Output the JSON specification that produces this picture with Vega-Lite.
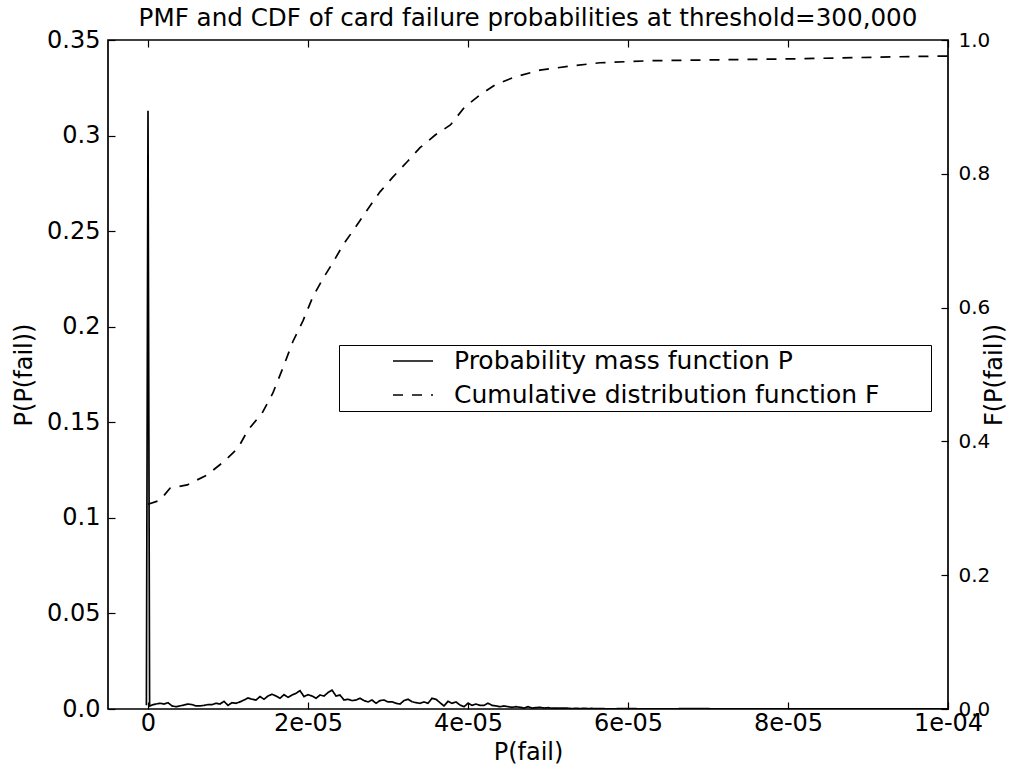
{
  "$schema": "https://vega.github.io/schema/vega-lite/v6.json",
  "autosize": {"type": "none"},
  "width": 840,
  "height": 669,
  "padding": {"left": 108, "top": 40, "right": 76, "bottom": 59},
  "background": "white",
  "config": {
    "font": "DejaVu Sans",
    "view": {"stroke": "black", "strokeWidth": 1.7},
    "axis": {"grid": false, "domain": false, "tickColor": "black", "labelColor": "black", "titleColor": "black", "titleFontWeight": "normal", "titleFontSize": 24, "tickWidth": 1.2}
  },
  "title": {"text": "PMF and CDF of card failure probabilities at threshold=300,000", "fontSize": 24.6, "fontWeight": "normal", "color": "black", "offset": -4, "frame": "group", "anchor": "middle"},
  "datasets": {
    "pmf": [
      {"p": -2e-7, "v": 0.002},
      {"p": 0, "v": 0.313},
      {"p": 2e-7, "v": 0.0015},
      {"p": 5e-7, "v": 0.0021},
      {"p": 1.0e-6, "v": 0.0026},
      {"p": 1.5e-6, "v": 0.0030},
      {"p": 2.0e-6, "v": 0.0026},
      {"p": 2.5e-6, "v": 0.0033},
      {"p": 3.0e-6, "v": 0.0016},
      {"p": 3.5e-6, "v": 0.0012},
      {"p": 4.0e-6, "v": 0.0016},
      {"p": 4.5e-6, "v": 0.0021},
      {"p": 5.0e-6, "v": 0.0026},
      {"p": 5.5e-6, "v": 0.0023},
      {"p": 6.0e-6, "v": 0.0016},
      {"p": 6.5e-6, "v": 0.0016},
      {"p": 7.0e-6, "v": 0.0019},
      {"p": 7.5e-6, "v": 0.0023},
      {"p": 8.0e-6, "v": 0.0023},
      {"p": 8.5e-6, "v": 0.0030},
      {"p": 9.0e-6, "v": 0.0026},
      {"p": 9.5e-6, "v": 0.0040},
      {"p": 1.0e-5, "v": 0.0019},
      {"p": 1.05e-5, "v": 0.0033},
      {"p": 1.1e-5, "v": 0.0030},
      {"p": 1.15e-5, "v": 0.0037},
      {"p": 1.2e-5, "v": 0.0047},
      {"p": 1.25e-5, "v": 0.0058},
      {"p": 1.3e-5, "v": 0.0051},
      {"p": 1.35e-5, "v": 0.0047},
      {"p": 1.4e-5, "v": 0.0065},
      {"p": 1.45e-5, "v": 0.0051},
      {"p": 1.5e-5, "v": 0.0068},
      {"p": 1.55e-5, "v": 0.0077},
      {"p": 1.6e-5, "v": 0.0068},
      {"p": 1.65e-5, "v": 0.0056},
      {"p": 1.7e-5, "v": 0.0075},
      {"p": 1.75e-5, "v": 0.0061},
      {"p": 1.8e-5, "v": 0.0073},
      {"p": 1.85e-5, "v": 0.0082},
      {"p": 1.9e-5, "v": 0.0096},
      {"p": 1.95e-5, "v": 0.0065},
      {"p": 2.0e-5, "v": 0.0075},
      {"p": 2.05e-5, "v": 0.0068},
      {"p": 2.1e-5, "v": 0.0056},
      {"p": 2.15e-5, "v": 0.0073},
      {"p": 2.2e-5, "v": 0.0068},
      {"p": 2.25e-5, "v": 0.0086},
      {"p": 2.3e-5, "v": 0.0099},
      {"p": 2.35e-5, "v": 0.0068},
      {"p": 2.4e-5, "v": 0.0073},
      {"p": 2.45e-5, "v": 0.0047},
      {"p": 2.5e-5, "v": 0.0051},
      {"p": 2.55e-5, "v": 0.0044},
      {"p": 2.6e-5, "v": 0.0047},
      {"p": 2.65e-5, "v": 0.0056},
      {"p": 2.7e-5, "v": 0.0044},
      {"p": 2.75e-5, "v": 0.0037},
      {"p": 2.8e-5, "v": 0.0047},
      {"p": 2.85e-5, "v": 0.0030},
      {"p": 2.9e-5, "v": 0.0044},
      {"p": 2.95e-5, "v": 0.0047},
      {"p": 3.0e-5, "v": 0.0037},
      {"p": 3.05e-5, "v": 0.0038},
      {"p": 3.1e-5, "v": 0.0030},
      {"p": 3.15e-5, "v": 0.0026},
      {"p": 3.2e-5, "v": 0.0044},
      {"p": 3.25e-5, "v": 0.0051},
      {"p": 3.3e-5, "v": 0.0038},
      {"p": 3.35e-5, "v": 0.0033},
      {"p": 3.4e-5, "v": 0.0030},
      {"p": 3.45e-5, "v": 0.0037},
      {"p": 3.5e-5, "v": 0.0030},
      {"p": 3.55e-5, "v": 0.0056},
      {"p": 3.6e-5, "v": 0.0051},
      {"p": 3.65e-5, "v": 0.0033},
      {"p": 3.7e-5, "v": 0.0016},
      {"p": 3.75e-5, "v": 0.0040},
      {"p": 3.8e-5, "v": 0.0030},
      {"p": 3.85e-5, "v": 0.0037},
      {"p": 3.9e-5, "v": 0.0021},
      {"p": 3.95e-5, "v": 0.0012},
      {"p": 4.0e-5, "v": 0.0030},
      {"p": 4.05e-5, "v": 0.0019},
      {"p": 4.1e-5, "v": 0.0026},
      {"p": 4.15e-5, "v": 0.0019},
      {"p": 4.2e-5, "v": 0.0019},
      {"p": 4.25e-5, "v": 0.0030},
      {"p": 4.3e-5, "v": 0.0019},
      {"p": 4.35e-5, "v": 0.0016},
      {"p": 4.4e-5, "v": 0.0012},
      {"p": 4.45e-5, "v": 0.0016},
      {"p": 4.5e-5, "v": 0.0012},
      {"p": 4.55e-5, "v": 0.0009},
      {"p": 4.6e-5, "v": 0.0012},
      {"p": 4.65e-5, "v": 0.0009},
      {"p": 4.7e-5, "v": 0.0005},
      {"p": 4.75e-5, "v": 0.0012},
      {"p": 4.8e-5, "v": 0.0005},
      {"p": 4.85e-5, "v": 0.0007},
      {"p": 4.9e-5, "v": 0.0009},
      {"p": 4.95e-5, "v": 0.0005},
      {"p": 5.0e-5, "v": 0.0007},
      {"p": 5.05e-5, "v": 0.0004},
      {"p": 5.1e-5, "v": 0.0005},
      {"p": 5.15e-5, "v": 0.0004},
      {"p": 5.2e-5, "v": 0.0005},
      {"p": 5.25e-5, "v": 0.0004},
      {"p": 5.3e-5, "v": 0.0002},
      {"p": 5.35e-5, "v": 0.0004},
      {"p": 5.4e-5, "v": 0.0002},
      {"p": 5.45e-5, "v": 0.0004},
      {"p": 5.5e-5, "v": 0.0002},
      {"p": 5.55e-5, "v": 0.0003},
      {"p": 5.6e-5, "v": 0.0002},
      {"p": 5.65e-5, "v": 0.0002},
      {"p": 5.75e-5, "v": 0.0001},
      {"p": 6.0e-5, "v": 0.0002},
      {"p": 6.2e-5, "v": 0.0001},
      {"p": 6.5e-5, "v": 0.0001},
      {"p": 6.8e-5, "v": 0.0002},
      {"p": 7.2e-5, "v": 0.0001},
      {"p": 7.6e-5, "v": 0.0001},
      {"p": 8.0e-5, "v": 0.0001},
      {"p": 8.5e-5, "v": 0.0001},
      {"p": 9.0e-5, "v": 0.0001},
      {"p": 9.5e-5, "v": 0.0001},
      {"p": 1.0e-4, "v": 0.0001}
    ],
    "cdf": [
      {"p": 0, "F": 0.306},
      {"p": 1.5e-6, "F": 0.312},
      {"p": 2.75e-6, "F": 0.330},
      {"p": 4.9e-6, "F": 0.335},
      {"p": 7.4e-6, "F": 0.350},
      {"p": 9.4e-6, "F": 0.369},
      {"p": 1.125e-5, "F": 0.390},
      {"p": 1.25e-5, "F": 0.417},
      {"p": 1.425e-5, "F": 0.442},
      {"p": 1.56e-5, "F": 0.472},
      {"p": 1.69e-5, "F": 0.511},
      {"p": 1.81e-5, "F": 0.549},
      {"p": 1.94e-5, "F": 0.581},
      {"p": 2.06e-5, "F": 0.616},
      {"p": 2.19e-5, "F": 0.644},
      {"p": 2.31e-5, "F": 0.667},
      {"p": 2.44e-5, "F": 0.694},
      {"p": 2.61e-5, "F": 0.723},
      {"p": 2.74e-5, "F": 0.746},
      {"p": 2.9e-5, "F": 0.773},
      {"p": 3.06e-5, "F": 0.795},
      {"p": 3.24e-5, "F": 0.818},
      {"p": 3.4e-5, "F": 0.839},
      {"p": 3.59e-5, "F": 0.858},
      {"p": 3.78e-5, "F": 0.873},
      {"p": 3.96e-5, "F": 0.900},
      {"p": 4.15e-5, "F": 0.918},
      {"p": 4.34e-5, "F": 0.933},
      {"p": 4.59e-5, "F": 0.945},
      {"p": 4.9e-5, "F": 0.955},
      {"p": 5.28e-5, "F": 0.961},
      {"p": 5.65e-5, "F": 0.966},
      {"p": 6.28e-5, "F": 0.969},
      {"p": 6.9e-5, "F": 0.970},
      {"p": 8.15e-5, "F": 0.972},
      {"p": 9.4e-5, "F": 0.975},
      {"p": 1.0e-4, "F": 0.976}
    ]
  },
  "layer": [
    {
      "data": {"name": "pmf"},
      "mark": {"type": "line", "color": "black", "strokeWidth": 1.7, "clip": true},
      "encoding": {
        "x": {"field": "p", "type": "quantitative", "sort": null,
          "scale": {"domain": [-5e-6, 1e-4], "nice": false, "zero": false},
          "axis": {"orient": "bottom", "title": "P(fail)", "values": [0, 2e-5, 4e-5, 6e-5, 8e-5, 1e-4],
            "labelExpr": "datum.value == 0 ? '0' : replace(format(datum.value, '.0e'), 'e-', 'e-0')",
            "labelFontSize": 24, "tickSize": -7, "labelPadding": 9, "titlePadding": 5, "labelFlush": false}},
        "y": {"field": "v", "type": "quantitative",
          "scale": {"domain": [0, 0.35], "nice": false},
          "axis": {"orient": "left", "title": "P(P(fail))", "values": [0, 0.05, 0.1, 0.15, 0.2, 0.25, 0.3, 0.35],
            "labelExpr": "datum.value == 0 ? '0.0' : '' + datum.value",
            "labelFontSize": 24, "tickSize": -7, "labelPadding": 15, "titlePadding": 10}},
        "strokeDash": {"datum": "Probability mass function P", "type": "nominal",
          "scale": {"domain": ["Probability mass function P", "Cumulative distribution function F"], "range": [[1, 0], [10, 9]]},
          "legend": {"orient": "none", "legendX": 231, "legendY": 305, "title": " ", "titleOrient": "right", "titlePadding": 48, "titleFontSize": 2,
            "strokeColor": "black", "fillColor": "white",
            "padding": 3, "labelFontSize": 25, "labelColor": "black", "labelLimit": 800, "symbolType": "stroke", "symbolStrokeWidth": 1.7, "symbolStrokeColor": "black",
            "symbolSize": 1600, "symbolOffset": 50, "labelOffset": 20, "rowPadding": 8, "clipHeight": 26}}
      }
    },
    {
      "data": {"name": "cdf"},
      "mark": {"type": "line", "color": "black", "strokeWidth": 1.7, "clip": true},
      "encoding": {
        "x": {"field": "p", "type": "quantitative", "sort": null,
          "scale": {"domain": [-5e-6, 1e-4], "nice": false, "zero": false},
          "axis": {"orient": "top", "title": null, "values": [0, 2e-5, 4e-5, 6e-5, 8e-5, 1e-4], "labels": false, "tickSize": -7}},
        "y": {"field": "F", "type": "quantitative",
          "scale": {"domain": [0, 1], "nice": false},
          "axis": {"orient": "right", "title": "F(P(fail))", "titleAngle": 270, "values": [0, 0.2, 0.4, 0.6, 0.8, 1.0], "format": ".1f",
            "labelFontSize": 20, "tickSize": -7, "labelPadding": 17, "titlePadding": 17}},
        "strokeDash": {"datum": "Cumulative distribution function F", "type": "nominal",
          "scale": {"domain": ["Probability mass function P", "Cumulative distribution function F"], "range": [[1, 0], [10, 9]]}}
      }
    }
  ],
  "resolve": {"scale": {"y": "independent"}, "axis": {"x": "independent"}}
}
